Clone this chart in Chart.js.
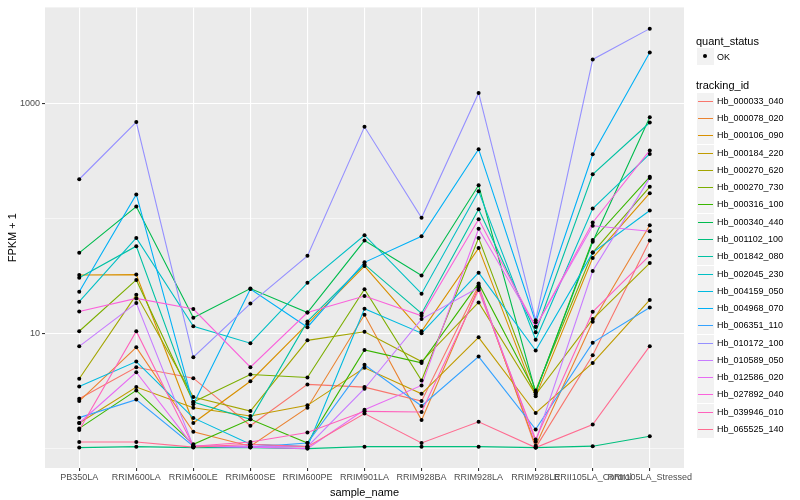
<!DOCTYPE html>
<html lang="en">
<head>
<meta charset="UTF-8">
<title>FPKM + 1 by sample</title>
<style>
  body { margin: 0; background: #fff; font-family: "Liberation Sans", Arial, sans-serif; }
  .wrap { position: relative; width: 800px; height: 500px; }
  #chart { position: absolute; left: 0; top: 0; }
  .legend { position: absolute; left: 696px; top: 0; width: 104px; height: 500px; font-size: 9px; color: #000; }
  .ltitle { position: absolute; left: 0; font-size: 11px; white-space: nowrap; transform: translateY(-50%); }
  .key { position: absolute; left: 1px; width: 17px; height: 17px; background: #f2f2f2; border-bottom: 1px solid #fff; }
  .key i { position: absolute; left: 1px; right: 1px; top: 7.5px; height: 1.6px; }
  .key b { position: absolute; left: 6px; top: 6px; width: 4px; height: 4px; border-radius: 50%; background: #000; }
  .lab { position: absolute; left: 21px; white-space: nowrap; transform: translateY(-50%); }
</style>
</head>
<body>
<div class="wrap">
  <canvas id="chart" width="800" height="500"></canvas>
  <div class="legend" id="legend"></div>
</div>

<script src="https://cdn.jsdelivr.net/npm/chart.js/dist/chart.umd.min.js"></script>
<script>
  // categories on the x axis
  const samples = ['PB350LA', 'RRIM600LA', 'RRIM600LE', 'RRIM600SE', 'RRIM600PE', 'RRIM901LA',
                   'RRIM928BA', 'RRIM928LA', 'RRIM928LE', 'RRII105LA_Control', 'RRII105LA_Stressed'];

  const trackingIds = ['Hb_000033_040', 'Hb_000078_020', 'Hb_000106_090', 'Hb_000184_220', 'Hb_000270_620',
                       'Hb_000270_730', 'Hb_000316_100', 'Hb_000340_440', 'Hb_001102_100', 'Hb_001842_080',
                       'Hb_002045_230', 'Hb_004159_050', 'Hb_004968_070', 'Hb_006351_110', 'Hb_010172_100',
                       'Hb_010589_050', 'Hb_012586_020', 'Hb_027892_040', 'Hb_039946_010', 'Hb_065525_140'];

  // FPKM + 1, one array per tracking id
  const hb_000033_040 = [2.72, 5.11, 4.10, 1.58, 3.62, 3.43, 2.59, 26.3, 1.02, 6.49, 64.7];
  const hb_000078_020 = [2.59, 7.61, 1.40, 1.05, 2.27, 14.6, 1.77, 25.2, 1.06, 12.7, 88];
  const hb_000106_090 = [32.4, 32.7, 1.67, 3.86, 12.2, 38.8, 10.5, 55.6, 2.85, 45.7, 167];
  const hb_000184_220 = [1.67, 3.43, 2.27, 1.92, 2.38, 5.05, 3.00, 9.3, 2.04, 5.57, 19.7];
  const hb_000270_620 = [4.05, 21.8, 2.81, 2.12, 8.75, 10.4, 5.72, 18.7, 2.96, 13.4, 41.2];
  const hb_000270_730 = [10.5, 29.4, 2.54, 4.42, 4.16, 24.4, 3.92, 68.2, 3.21, 50.8, 190];
  const hb_000316_100 = [1.50, 3.21, 1.09, 1.80, 1.12, 7.22, 5.57, 27.4, 3.08, 65.5, 232];
  const hb_000340_440 = [50.6, 128, 13.8, 24.7, 15.3, 64.7, 32.1, 196, 3.08, 63.2, 767];
  const hb_001102_100 = [1.02, 1.04, 1.02, 1.02, 1.00, 1.04, 1.04, 1.04, 1.02, 1.05, 1.28];
  const hb_001842_080 = [30.7, 57.8, 2.54, 1.80, 12.8, 40.1, 15.0, 121, 10.3, 244, 689];
  const hb_002045_230 = [19.0, 68.2, 11.6, 8.27, 27.7, 72, 22.3, 174, 8.87, 123, 367];
  const hb_004159_050 = [3.48, 5.72, 1.85, 1.09, 1.04, 16.5, 10.1, 34, 7.13, 50.8, 118];
  const hb_004968_070 = [23.2, 163, 2.43, 24.5, 11.4, 41.8, 70.5, 404, 12.6, 364, 2805];
  const hb_006351_110 = [1.86, 2.67, 1.05, 1.03, 1.12, 5.36, 2.35, 6.32, 1.47, 8.36, 16.9];
  const hb_010172_100 = [221, 695, 6.24, 18.3, 47.6, 632, 102, 1245, 13.1, 2438, 4520];
  const hb_010589_050 = [7.76, 18.5, 1.05, 1.05, 1.04, 3.32, 13.4, 25.2, 1.15, 35.1, 227];
  const hb_012586_020 = [1.67, 4.62, 1.05, 1.03, 1.00, 2.18, 3.55, 82, 11.5, 87, 78];
  const hb_027892_040 = [15.6, 20.3, 16.4, 5.11, 15.3, 21.3, 14.3, 99, 11.5, 93, 394];
  const hb_039946_010 = [1.45, 10.5, 1.05, 1.14, 1.38, 2.11, 2.08, 24, 1.20, 15.5, 48];
  const hb_065525_140 = [1.14, 1.14, 1.03, 1.09, 1.04, 2.02, 1.12, 1.71, 1.02, 1.62, 7.79];

  const seriesValues = [hb_000033_040, hb_000078_020, hb_000106_090, hb_000184_220, hb_000270_620,
                        hb_000270_730, hb_000316_100, hb_000340_440, hb_001102_100, hb_001842_080,
                        hb_002045_230, hb_004159_050, hb_004968_070, hb_006351_110, hb_010172_100,
                        hb_010589_050, hb_012586_020, hb_027892_040, hb_039946_010, hb_065525_140];

  // ggplot default hue palette, 20 levels
  const colors = ['#F8766D', '#EA8331', '#D89000', '#C09B00', '#A3A500', '#7CAE00', '#39B600', '#00BB4E',
                  '#00BF7D', '#00C1A3', '#00BFC4', '#00BAE0', '#00B0F6', '#35A2FF', '#9590FF', '#C77CFF',
                  '#E76BF3', '#FA62DB', '#FF62BC', '#FF6C91'];

  // y axis breaks
  const yMajor = [10, 1000];
  const yMinor = [1, 100];

  const FONT = '"Liberation Sans", Arial, sans-serif';

  const datasets = [];
  seriesValues.forEach((vals, k) => {
    datasets.push({
      label: trackingIds[k],
      data: vals.map((v, i) => ({ x: i, y: v })),
      borderColor: colors[k],
      backgroundColor: colors[k],
      borderWidth: 1.1,
      pointRadius: 0,
      tension: 0,
      order: 1 + (seriesValues.length - k)
    });
  });
  // black points (quant_status OK) on top of everything
  datasets.push({
    label: 'OK',
    type: 'scatter',
    data: seriesValues.flatMap(vals => vals.map((v, i) => ({ x: i, y: v }))),
    pointRadius: 2,
    pointBackgroundColor: '#000',
    pointBorderWidth: 0,
    showLine: false,
    order: 0
  });

  const panelBg = {
    id: 'panelBg',
    beforeDraw(chart) {
      const { ctx, chartArea: a } = chart;
      ctx.save();
      ctx.fillStyle = '#EBEBEB';
      ctx.fillRect(a.left, a.top, a.right - a.left, a.bottom - a.top);
      ctx.restore();
    }
  };

  const isMajor = ctx => ctx.tick && yMajor.includes(ctx.tick.value);

  new Chart(document.getElementById('chart'), {
    type: 'line',
    data: { datasets },
    options: {
      responsive: false,
      animation: false,
      layout: { padding: { top: 5, right: 116, left: 0, bottom: 0 } },
      plugins: { legend: { display: false }, tooltip: { enabled: false } },
      scales: {
        x: {
          type: 'linear',
          min: -0.6,
          max: samples.length - 1 + 0.6,
          afterBuildTicks: s => { s.ticks = samples.map((_, i) => ({ value: i })); },
          afterFit: s => { s.height = 32; },
          border: { display: false },
          grid: { color: '#fff', lineWidth: 1.1, tickColor: '#333', tickLength: 3 },
          ticks: {
            autoSkip: false, maxRotation: 0, minRotation: 0, padding: 1,
            color: '#4D4D4D', font: { size: 9, family: FONT },
            callback: v => samples[v]
          },
          title: { display: true, text: 'sample_name', color: '#000', font: { size: 11, family: FONT }, padding: { top: 0, bottom: 0 } }
        },
        y: {
          type: 'logarithmic',
          min: 0.678,
          max: 6918,
          afterBuildTicks: s => { s.ticks = yMinor.concat(yMajor).sort((a, b) => a - b).map(v => ({ value: v })); },
          afterFit: s => { s.width = 45; },
          border: { display: false },
          grid: {
            color: '#fff',
            lineWidth: ctx => isMajor(ctx) ? 1.1 : 0.55,
            tickColor: ctx => isMajor(ctx) ? '#333' : 'rgba(0,0,0,0)',
            tickLength: 3
          },
          ticks: {
            padding: 2, color: '#4D4D4D', font: { size: 9, family: FONT },
            callback: v => yMajor.includes(v) ? String(v) : ''
          },
          title: { display: true, text: 'FPKM + 1', color: '#000', font: { size: 11, family: FONT }, padding: { top: 6, bottom: 0 } }
        }
      }
    },
    plugins: [panelBg]
  });

  // legend: quant_status + tracking_id
  const legend = document.getElementById('legend');
  let html = '<div class="ltitle" style="top:40.5px">quant_status</div>';
  html += '<div class="key" style="top:48px"><b></b></div><div class="lab" style="top:57px">OK</div>';
  html += '<div class="ltitle" style="top:84.5px">tracking_id</div>';
  trackingIds.forEach((id, k) => {
    const cy = 100.7 + k * 17.28;
    html += `<div class="key" style="top:${Math.round(cy) - 8}px"><i style="background:${colors[k]}"></i></div>`;
    html += `<div class="lab" style="top:${cy}px">${id}</div>`;
  });
  legend.innerHTML = html;
</script>
</body>
</html>
